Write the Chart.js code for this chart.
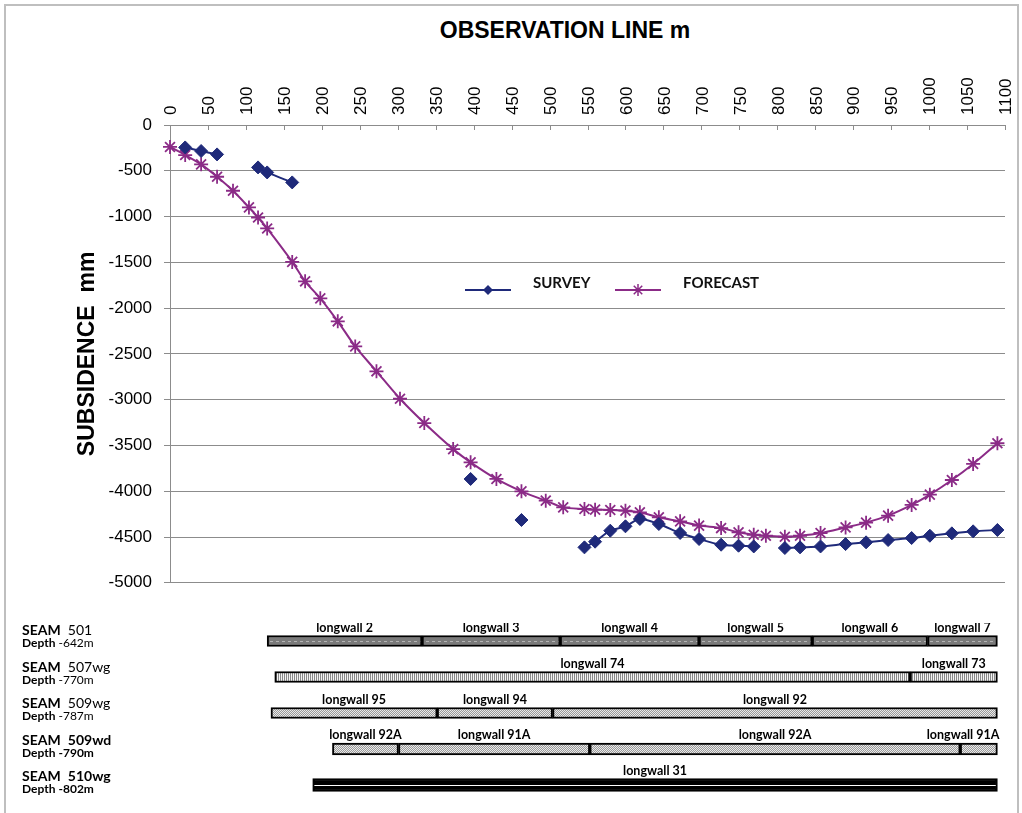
<!DOCTYPE html>
<html>
<head>
<meta charset="utf-8">
<script src="https://cdn.jsdelivr.net/npm/chart.js@4.4.1/dist/chart.umd.min.js"></script>
<style>
  body { margin: 0; background: #fff; }
  #wrap { position: relative; width: 1022px; height: 813px; overflow: hidden; background: #fff; }
  #frame { position: absolute; left: 4px; top: 4px; width: 1015px; height: 830px; border: 2px solid #bfbfbf; box-sizing: border-box; }
  #title { position: absolute; left: 365px; width: 400px; top: 19px; text-align: center;
           font: bold 23px "Liberation Sans", Arial, sans-serif; line-height: 23px; color: #000; }
  #main { position: absolute; left: 0; top: 0; }
  #seams { position: absolute; left: 0; top: 623px; }
  .seam { position: absolute; left: 22px; font-family: Lato, "Open Sans", sans-serif; color: #000; white-space: pre; }
  .seam .s { font-size: 14px; line-height: 13px; }
  .seam .d { font-size: 12px; line-height: 12px; margin-top: 1px; }
  .seam b { font-weight: 700; }
</style>
</head>
<body>
<div id="wrap">
  <div id="frame"></div>
  <div id="title">OBSERVATION LINE m</div>
  <canvas id="main" width="1022" height="605"></canvas>
  <canvas id="seams" width="1022" height="180"></canvas>
</div>
<script>
// observation stations along the line (m)
const stations = [0, 20, 41, 62, 83, 104, 116, 128, 161, 178, 198, 221, 244, 272, 303, 335, 373, 396, 430, 463,
  495, 518, 546, 560, 580, 600, 619, 644, 672, 697, 726, 749, 769, 785, 810, 830, 857, 890, 917, 946,
  977, 1001, 1030, 1058, 1090];

// measured subsidence (mm), null = no reading
const survey = [null, -245, -284, -321, null, null, -463, -518, -627, null, null, null, null, null, null, null, null, -3866, null, -4314,
  null, null, -4613, -4551, -4431, -4383, -4303, -4358, -4456, -4522, -4584, -4595, -4603, null, -4620, -4613, -4603, -4577, -4558, -4533,
  -4511, -4486, -4460, -4438, -4423];

// forecast subsidence (mm)
const forecast = [-240, -328, -430, -565, -718, -900, -1010, -1130, -1495, -1707, -1893, -2144, -2418, -2690, -2990, -3255, -3540, -3684, -3866, -4001,
  -4103, -4176, -4194, -4201, -4205, -4212, -4230, -4285, -4329, -4375, -4402, -4449, -4475, -4486, -4497, -4486, -4456, -4395, -4343, -4267,
  -4150, -4037, -3877, -3702, -3476];

// seams and longwall panels below the chart
const seamNames = ['501', '507wg', '509wg', '509wd', '510wg'];
const seamDepths = ['-642m', '-770m', '-787m', '-790m', '-802m'];
const panelNames = [
  ['longwall 2', 'longwall 3', 'longwall 4', 'longwall 5', 'longwall 6', 'longwall 7'],
  ['longwall 74', 'longwall 73'],
  ['longwall 95', 'longwall 94', 'longwall 92'],
  ['longwall 92A', 'longwall 91A', 'longwall 92A', 'longwall 91A'],
  ['longwall 31']
];
const panelBounds = [
  [128, 332, 514, 697, 846, 998, 1090],
  [138, 975, 1090],
  [133, 352, 504, 1090],
  [214, 301, 553, 1041, 1090],
  [188, 1090]
];

const SURVEY_COL = '#1F2A7A';
const FORECAST_COL = '#8B2B87';
const GRID_COL = '#8c8c8c';

function toPoints(values) {
  return stations.map((x, i) => ({ x: x, y: values[i] }));
}

// small legend drawn inside the plot
const legendInside = {
  id: 'legendInside',
  afterDraw(chart, args, opts) {
    const ctx = chart.ctx;
    ctx.save();
    chart.data.datasets.forEach((ds, i) => {
      const x0 = opts.x[i];
      const y = opts.y;
      ctx.strokeStyle = ds.borderColor;
      ctx.fillStyle = ds.borderColor;
      ctx.lineWidth = 2;
      ctx.beginPath();
      ctx.moveTo(x0, y);
      ctx.lineTo(x0 + 46, y);
      ctx.stroke();
      const cx = x0 + 23;
      if (ds.pointStyle === 'rectRot') {
        ctx.beginPath();
        ctx.moveTo(cx, y - 5); ctx.lineTo(cx + 5, y); ctx.lineTo(cx, y + 5); ctx.lineTo(cx - 5, y);
        ctx.closePath();
        ctx.fill();
      } else {
        ctx.lineWidth = 1.5;
        ctx.beginPath();
        for (let a = 0; a < 4; a++) {
          const ang = a * Math.PI / 4;
          ctx.moveTo(cx - 6 * Math.sin(ang), y - 6 * Math.cos(ang));
          ctx.lineTo(cx + 6 * Math.sin(ang), y + 6 * Math.cos(ang));
        }
        ctx.stroke();
      }
      ctx.fillStyle = '#111';
      ctx.font = 'bold 15px Lato, "Open Sans", sans-serif';
      ctx.textBaseline = 'middle';
      ctx.textAlign = 'left';
      ctx.fillText(ds.label, x0 + 68, y - 7);
    });
    ctx.restore();
  }
};

// Excel style tick marks pointing into the plot from the top axis
const insideTicks = {
  id: 'insideTicks',
  afterDraw(chart) {
    const sc = chart.scales.x;
    const ctx = chart.ctx;
    ctx.save();
    ctx.strokeStyle = GRID_COL;
    ctx.lineWidth = 1;
    sc.ticks.forEach(t => {
      const px = Math.round(sc.getPixelForValue(t.value)) + 0.5;
      ctx.beginPath();
      ctx.moveTo(px, sc.bottom);
      ctx.lineTo(px, sc.bottom + 5);
      ctx.stroke();
    });
    ctx.restore();
  }
};

new Chart(document.getElementById('main'), {
  type: 'line',
  data: {
    datasets: [
      {
        label: 'SURVEY',
        data: toPoints(survey),
        borderColor: SURVEY_COL,
        backgroundColor: SURVEY_COL,
        borderWidth: 2,
        pointStyle: 'rectRot',
        pointRadius: 6.5,
        pointBorderWidth: 1,
        tension: 0.3,
        spanGaps: false,
        clip: false
      },
      {
        label: 'FORECAST',
        data: toPoints(forecast),
        borderColor: FORECAST_COL,
        backgroundColor: FORECAST_COL,
        borderWidth: 2,
        pointStyle: 'star',
        pointRadius: 7,
        pointBorderWidth: 1.8,
        tension: 0.3,
        clip: false
      }
    ]
  },
  options: {
    responsive: false,
    animation: false,
    layout: { padding: { left: 0, top: 0, right: 17, bottom: 13 } },
    plugins: {
      legend: { display: false },
      tooltip: { enabled: false },
      legendInside: { x: [465, 615], y: 290 }
    },
    scales: {
      x: {
        type: 'linear',
        position: 'top',
        min: 0,
        max: 1100,
        afterFit(scale) { scale.height = 125; },
        grid: { display: false, drawTicks: false },
        border: { display: true, color: GRID_COL, width: 1 },
        ticks: {
          stepSize: 50,
          autoSkip: false,
          minRotation: 90,
          maxRotation: 90,
          padding: 10,
          labelOffset: 22,
          color: '#000',
          callback: v => String(v),
          font: { family: '"Liberation Sans", Arial, sans-serif', size: 17 }
        }
      },
      y: {
        type: 'linear',
        min: -5000,
        max: 0,
        afterFit(scale) { scale.width = 170; },
        grid: { color: GRID_COL, lineWidth: 1, drawTicks: true, tickLength: 6 },
        border: { display: true, color: GRID_COL, width: 1 },
        ticks: {
          stepSize: 500,
          padding: 12,
          color: '#000',
          callback: v => String(v),
          font: { family: '"Liberation Sans", Arial, sans-serif', size: 17 }
        },
        title: {
          display: true,
          text: 'SUBSIDENCE  mm',
          color: '#000',
          padding: { top: 74, bottom: 0 },
          font: { family: '"Liberation Sans", Arial, sans-serif', size: 23, weight: 'bold' }
        }
      }
    }
  },
  plugins: [legendInside, insideTicks]
});

// ---- seam / longwall panel strip ----
function makePattern(kind) {
  const c = document.createElement('canvas');
  const g = c.getContext('2d');
  if (kind === 'dark') {
    c.width = 6; c.height = 36;
    g.fillStyle = '#7a7a7a'; g.fillRect(0, 0, 6, 36);
    g.fillStyle = '#b4b4b4'; g.fillRect(0, 18, 3, 1);
  } else if (kind === 'vstripe') {
    c.width = 2; c.height = 2;
    g.fillStyle = '#f4f4f4'; g.fillRect(0, 0, 2, 2);
    g.fillStyle = '#8a8a8a'; g.fillRect(0, 0, 1, 2);
  } else if (kind === 'dots') {
    c.width = 2; c.height = 2;
    g.fillStyle = '#eaeaea'; g.fillRect(0, 0, 2, 2);
    g.fillStyle = '#9a9a9a'; g.fillRect(0, 0, 1, 1); g.fillRect(1, 1, 1, 1);
  } else {
    c.width = 4; c.height = 36;
    g.fillStyle = '#000'; g.fillRect(0, 0, 4, 36);
    g.fillStyle = '#fff'; g.fillRect(0, 18, 4, 1);
  }
  return document.getElementById('seams').getContext('2d').createPattern(c, 'repeat');
}

const rowFill = [makePattern('dark'), makePattern('vstripe'), makePattern('dots'), makePattern('dots'), makePattern('black')];
const rowThick = [11, 11, 11, 12, 13];

const seamDatasets = [];
panelNames.forEach((names, r) => {
  names.forEach((nm, k) => {
    const data = seamNames.map((s, j) => (j === r ? [panelBounds[r][k], panelBounds[r][k + 1]] : null));
    seamDatasets.push({
      label: nm,
      data: data,
      backgroundColor: rowFill[r],
      borderColor: '#000',
      borderWidth: 2,
      borderSkipped: false,
      barThickness: rowThick[r],
      grouped: false
    });
  });
});

// panel names above each bar, kept inside the strip's right end
const panelLabels = {
  id: 'panelLabels',
  afterDatasetsDraw(chart) {
    const ctx = chart.ctx;
    const rightEnd = chart.scales.x.getPixelForValue(1090);
    ctx.save();
    ctx.font = 'bold 12.5px Lato, "Open Sans", sans-serif';
    ctx.fillStyle = '#000';
    ctx.textAlign = 'center';
    ctx.textBaseline = 'alphabetic';
    chart.data.datasets.forEach((ds, i) => {
      const meta = chart.getDatasetMeta(i);
      meta.data.forEach((el, j) => {
        if (ds.data[j] == null) return;
        const p = el.getProps(['x', 'base', 'y', 'height'], true);
        const w = ctx.measureText(ds.label).width;
        const cx = Math.min((p.x + p.base) / 2, rightEnd - w / 2 + 2);
        ctx.fillText(ds.label, cx, p.y - p.height / 2 - 4);
      });
    });
    ctx.restore();
  }
};

new Chart(document.getElementById('seams'), {
  type: 'bar',
  data: { labels: seamNames, datasets: seamDatasets },
  options: {
    indexAxis: 'y',
    responsive: false,
    animation: false,
    layout: { padding: { left: 170, right: 17, top: 0, bottom: 0 } },
    plugins: { legend: { display: false }, tooltip: { enabled: false } },
    scales: {
      x: { type: 'linear', min: 0, max: 1100, display: false },
      y: { type: 'category', display: false }
    }
  },
  plugins: [panelLabels]
});

// seam captions on the left
const wrap = document.getElementById('wrap');
seamNames.forEach((s, i) => {
  const div = document.createElement('div');
  div.className = 'seam';
  div.style.top = (623 + i * 36.5) + 'px';
  const heavy = i >= 3;
  div.innerHTML = '<div class="s"><b>SEAM</b>  ' + (heavy ? '<b>' + s + '</b>' : s) + '</div>' +
                  '<div class="d"><b>Depth</b> ' + (heavy ? '<b>' + seamDepths[i] + '</b>' : seamDepths[i]) + '</div>';
  wrap.appendChild(div);
});
</script>
</body>
</html>
